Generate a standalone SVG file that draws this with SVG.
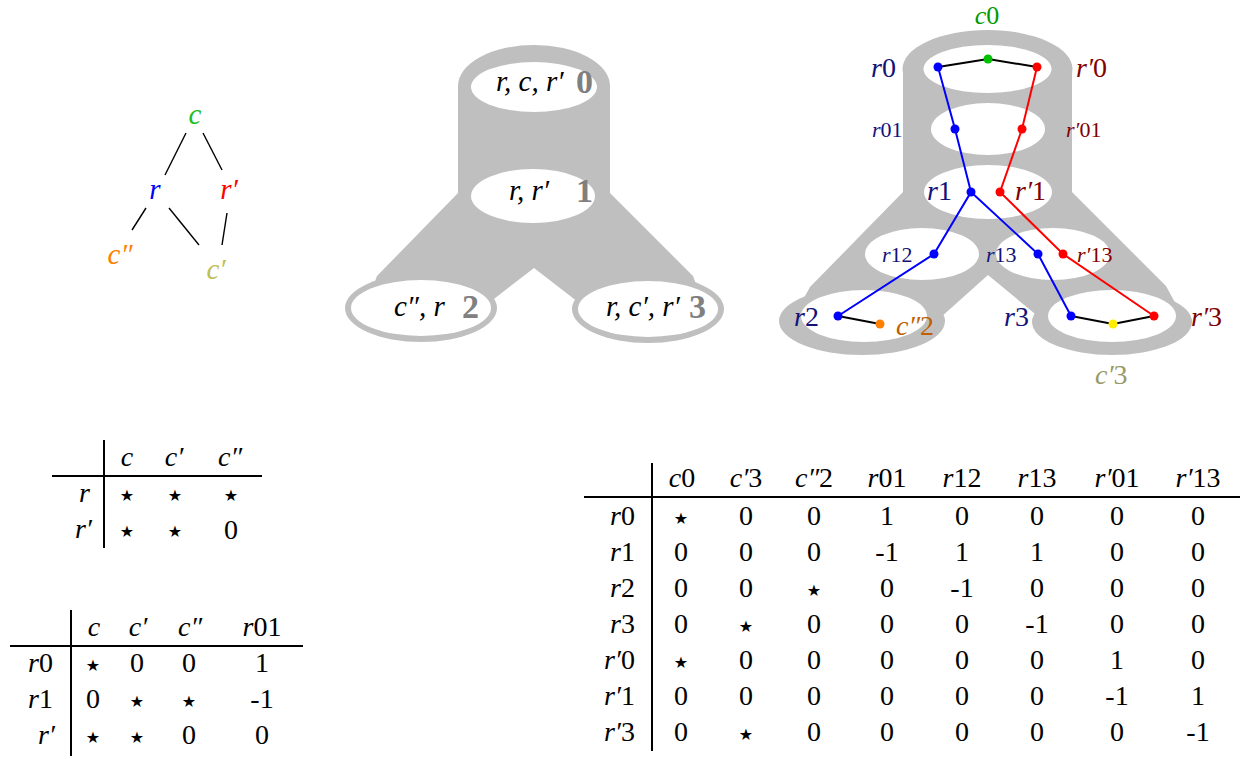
<svg xmlns="http://www.w3.org/2000/svg" width="1250" height="759" viewBox="0 0 1250 759">
<style>
text{font-family:"Liberation Serif","Times New Roman",serif;fill:#000}
.m{font-style:italic}
.lg{font-size:29px}
.t{font-size:28px;text-anchor:middle}
.rl{font-size:28px;text-anchor:end}
.st{font-family:"DejaVu Sans",sans-serif;font-size:16px;text-anchor:middle}
.bn{font-size:34px;font-weight:bold;fill:#808080}
.ml{font-size:29px}
.gr{fill:#bfbfbf}
.wh{fill:#fff}
.ln{stroke:#000;stroke-width:1.4;fill:none}
.tl{stroke:#000;stroke-width:2;fill:none}
.big{font-size:28px}
.sm{font-size:22px}
.nv{fill:#12127a}
.dr{fill:#800000}
.e{stroke-width:2;fill:none}
</style>

<!-- Left graph -->
<g id="connectors-left">
<line class="ln" x1="186" y1="133" x2="165" y2="175"/>
<line class="ln" x1="203" y1="133" x2="222" y2="170"/>
<line class="ln" x1="146" y1="208" x2="132" y2="230"/>
<line class="ln" x1="169" y1="208" x2="199" y2="245"/>
<line class="ln" x1="227" y1="213" x2="222" y2="245"/>
</g>
<g id="node-c"><text class="m lg" x="195" y="124" text-anchor="middle" style="fill:#1fbf1f">c</text></g>
<g id="node-r"><text class="m lg" x="155" y="199" text-anchor="middle" style="fill:#0000ff">r</text></g>
<g id="node-rp"><text class="m lg" x="229" y="199" text-anchor="middle" style="fill:#ff0000">r′</text></g>
<g id="node-cpp"><text class="m lg" x="120" y="264" text-anchor="middle" style="fill:#ff8000">c″</text></g>
<g id="node-cp"><text class="m lg" x="216" y="279" text-anchor="middle" style="fill:#bfbf5a">c′</text></g>

<!-- Middle shape -->
<g id="middle-shape">
<ellipse class="gr" cx="534" cy="86" rx="76" ry="41"/>
<rect class="gr" x="458" y="86" width="152" height="110"/>
<polygon class="gr" points="458,193 610,193 693,276 699,292 578,302 534,268 490,302 371,292 377,276"/>
<ellipse class="gr" cx="421" cy="308" rx="76" ry="34"/>
<ellipse class="gr" cx="648" cy="309" rx="76" ry="34"/>
</g>
<g id="mid-0">
<ellipse class="wh" cx="534" cy="87" rx="63" ry="25"/>
<text class="m ml" x="496" y="91">r, c, r′</text><text class="bn" x="576" y="93">0</text>
</g>
<g id="mid-1">
<ellipse class="wh" cx="533" cy="196" rx="62" ry="27"/>
<text class="m ml" x="509" y="200">r, r′</text><text class="bn" x="576" y="202">1</text>
</g>
<g id="mid-2">
<ellipse class="wh" cx="421" cy="308" rx="70" ry="28"/>
<text class="m ml" x="394" y="316">c″, r</text><text class="bn" x="462" y="318">2</text>
</g>
<g id="mid-3">
<ellipse class="wh" cx="648" cy="309" rx="70" ry="28"/>
<text class="m ml" x="606" y="316">r, c′, r′</text><text class="bn" x="689" y="318">3</text>
</g>

<!-- Right shape -->
<g id="right-shape">
<ellipse class="gr" cx="987.5" cy="69" rx="85" ry="39"/>
<rect class="gr" x="903" y="69" width="169" height="126"/>
<polygon class="gr" points="903,192 1072,192 1166,286 1178,308 1040,318 988,275 940,318 800,305 810,287"/>
<ellipse class="gr" cx="862" cy="321" rx="83" ry="34"/>
<ellipse class="gr" cx="1112" cy="322" rx="80" ry="33"/>
<ellipse class="wh" cx="987.5" cy="69" rx="64" ry="24"/>
<ellipse class="wh" cx="988" cy="129" rx="57" ry="26"/>
<ellipse class="wh" cx="988" cy="192" rx="64" ry="27"/>
<ellipse class="wh" cx="922" cy="254" rx="57" ry="26"/>
<ellipse class="wh" cx="1053" cy="254" rx="57" ry="26"/>
<ellipse class="wh" cx="864" cy="316" rx="63" ry="26"/>
<ellipse class="wh" cx="1112" cy="316" rx="64" ry="26"/>
</g>
<g id="connectors-right">
<polyline class="e" stroke="#000" points="938,67 988,59 1037,67"/>
<polyline class="e" stroke="#0000ff" points="938,67 955,129 971,192 934,254 838,316"/>
<polyline class="e" stroke="#0000ff" points="971,192 1038,254 1071,316"/>
<polyline class="e" stroke="#ff0000" points="1037,67 1022,129 1000,192 1063,254 1154,316"/>
<line class="e" stroke="#000" x1="838" y1="316" x2="880" y2="324"/>
<polyline class="e" stroke="#000" points="1071,316 1113,324 1154,316"/>
</g>
<g id="n-c0"><circle cx="988" cy="59" r="4.5" fill="#00c000"/><text class="m" x="987" y="24" text-anchor="middle" style="fill:#009a00;font-size:26px">c<tspan font-style="normal">0</tspan></text></g>
<g id="n-r0"><circle cx="938" cy="67" r="4.5" fill="#0000ff"/><text class="m big nv" x="871" y="77">r<tspan font-style="normal">0</tspan></text></g>
<g id="n-rp0"><circle cx="1037" cy="67" r="4.5" fill="#ff0000"/><text class="m big dr" x="1076" y="77">r′<tspan font-style="normal">0</tspan></text></g>
<g id="n-r01"><circle cx="955" cy="129" r="4.5" fill="#0000ff"/><text class="m sm nv" x="872" y="137">r<tspan font-style="normal">01</tspan></text></g>
<g id="n-rp01"><circle cx="1022" cy="129" r="4.5" fill="#ff0000"/><text class="m sm dr" x="1066" y="137">r′<tspan font-style="normal">01</tspan></text></g>
<g id="n-r1"><circle cx="971" cy="192" r="4.5" fill="#0000ff"/><text class="m big nv" x="927" y="200">r<tspan font-style="normal">1</tspan></text></g>
<g id="n-rp1"><circle cx="1000" cy="192" r="4.5" fill="#ff0000"/><text class="m big dr" x="1015" y="200">r′<tspan font-style="normal">1</tspan></text></g>
<g id="n-r12"><circle cx="934" cy="254" r="4.5" fill="#0000ff"/><text class="m sm nv" x="882" y="262">r<tspan font-style="normal">12</tspan></text></g>
<g id="n-r13"><circle cx="1038" cy="254" r="4.5" fill="#0000ff"/><text class="m sm nv" x="986" y="262">r<tspan font-style="normal">13</tspan></text></g>
<g id="n-rp13"><circle cx="1063" cy="254" r="4.5" fill="#ff0000"/><text class="m sm dr" x="1077" y="262">r′<tspan font-style="normal">13</tspan></text></g>
<g id="n-r2"><circle cx="838" cy="316" r="4.5" fill="#0000ff"/><text class="m big nv" x="794" y="326">r<tspan font-style="normal">2</tspan></text></g>
<g id="n-cpp2"><circle cx="880" cy="324" r="4.5" fill="#ff8000"/><text class="m big" x="896" y="335" style="fill:#c06000">c″<tspan font-style="normal">2</tspan></text></g>
<g id="n-r3"><circle cx="1071" cy="316" r="4.5" fill="#0000ff"/><text class="m big nv" x="1004" y="326">r<tspan font-style="normal">3</tspan></text></g>
<g id="n-cp3"><circle cx="1113" cy="324" r="4.5" fill="#ffee00"/><text class="m big" x="1095" y="384" style="fill:#999966">c′<tspan font-style="normal">3</tspan></text></g>
<g id="n-rp3"><circle cx="1154" cy="316" r="4.5" fill="#ff0000"/><text class="m big dr" x="1191" y="326">r′<tspan font-style="normal">3</tspan></text></g>

<!-- Table 1 -->
<g id="table1">
<line class="tl" x1="104" y1="440" x2="104" y2="548"/>
<line class="tl" x1="52" y1="476" x2="262" y2="476"/>
<text class="t m" x="127" y="466">c</text><text class="t m" x="174" y="466">c′</text><text class="t m" x="230" y="466">c″</text>
<text class="rl m" x="90" y="502">r</text><text class="rl m" x="92" y="538">r′</text>
<text class="st" x="127" y="501">★</text><text class="st" x="175" y="501">★</text><text class="st" x="231" y="501">★</text>
<text class="st" x="127" y="537">★</text><text class="st" x="175" y="537">★</text><text class="t" x="231" y="539">0</text>
</g>

<!-- Table 2 -->
<g id="table2">
<line class="tl" x1="71" y1="610" x2="71" y2="756"/>
<line class="tl" x1="10" y1="646" x2="303" y2="646"/>
<text class="t m" x="94" y="636">c</text><text class="t m" x="138" y="636">c′</text><text class="t m" x="190" y="636">c″</text><text class="t m" x="262" y="636">r<tspan font-style="normal">01</tspan></text>
<text class="rl m" x="53" y="672">r<tspan font-style="normal">0</tspan></text>
<text class="rl m" x="53" y="708">r<tspan font-style="normal">1</tspan></text>
<text class="rl m" x="55" y="744">r′</text>
<text class="st" x="93" y="671">★</text><text class="t" x="137" y="672">0</text><text class="t" x="189" y="672">0</text><text class="t" x="262" y="672">1</text>
<text class="t" x="93" y="708">0</text><text class="st" x="137" y="707">★</text><text class="st" x="189" y="707">★</text><text class="t" x="262" y="708">-1</text>
<text class="st" x="93" y="743">★</text><text class="st" x="137" y="743">★</text><text class="t" x="189" y="744">0</text><text class="t" x="262" y="744">0</text>
</g>

<!-- Table 3 -->
<g id="table3">
<line class="tl" x1="652" y1="463" x2="652" y2="751"/>
<line class="tl" x1="584" y1="497" x2="1240" y2="497"/>
<text class="t m" x="682" y="487">c<tspan font-style="normal">0</tspan></text>
<text class="t m" x="746" y="487">c′<tspan font-style="normal">3</tspan></text>
<text class="t m" x="814" y="487">c″<tspan font-style="normal">2</tspan></text>
<text class="t m" x="887" y="487">r<tspan font-style="normal">01</tspan></text>
<text class="t m" x="962" y="487">r<tspan font-style="normal">12</tspan></text>
<text class="t m" x="1037" y="487">r<tspan font-style="normal">13</tspan></text>
<text class="t m" x="1117" y="487">r′<tspan font-style="normal">01</tspan></text>
<text class="t m" x="1198" y="487">r′<tspan font-style="normal">13</tspan></text>
<text class="rl m" x="635" y="525">r<tspan font-style="normal">0</tspan></text>
<text class="rl m" x="635" y="561">r<tspan font-style="normal">1</tspan></text>
<text class="rl m" x="635" y="597">r<tspan font-style="normal">2</tspan></text>
<text class="rl m" x="635" y="633">r<tspan font-style="normal">3</tspan></text>
<text class="rl m" x="635" y="669">r′<tspan font-style="normal">0</tspan></text>
<text class="rl m" x="635" y="705">r′<tspan font-style="normal">1</tspan></text>
<text class="rl m" x="635" y="741">r′<tspan font-style="normal">3</tspan></text>
<!-- row r0 -->
<text class="st" x="681" y="524">★</text><text class="t" x="746" y="525">0</text><text class="t" x="814" y="525">0</text><text class="t" x="887" y="525">1</text><text class="t" x="962" y="525">0</text><text class="t" x="1037" y="525">0</text><text class="t" x="1117" y="525">0</text><text class="t" x="1198" y="525">0</text>
<!-- row r1 -->
<text class="t" x="681" y="561">0</text><text class="t" x="746" y="561">0</text><text class="t" x="814" y="561">0</text><text class="t" x="887" y="561">-1</text><text class="t" x="962" y="561">1</text><text class="t" x="1037" y="561">1</text><text class="t" x="1117" y="561">0</text><text class="t" x="1198" y="561">0</text>
<!-- row r2 -->
<text class="t" x="681" y="597">0</text><text class="t" x="746" y="597">0</text><text class="st" x="814" y="596">★</text><text class="t" x="887" y="597">0</text><text class="t" x="962" y="597">-1</text><text class="t" x="1037" y="597">0</text><text class="t" x="1117" y="597">0</text><text class="t" x="1198" y="597">0</text>
<!-- row r3 -->
<text class="t" x="681" y="633">0</text><text class="st" x="746" y="632">★</text><text class="t" x="814" y="633">0</text><text class="t" x="887" y="633">0</text><text class="t" x="962" y="633">0</text><text class="t" x="1037" y="633">-1</text><text class="t" x="1117" y="633">0</text><text class="t" x="1198" y="633">0</text>
<!-- row r'0 -->
<text class="st" x="681" y="668">★</text><text class="t" x="746" y="669">0</text><text class="t" x="814" y="669">0</text><text class="t" x="887" y="669">0</text><text class="t" x="962" y="669">0</text><text class="t" x="1037" y="669">0</text><text class="t" x="1117" y="669">1</text><text class="t" x="1198" y="669">0</text>
<!-- row r'1 -->
<text class="t" x="681" y="705">0</text><text class="t" x="746" y="705">0</text><text class="t" x="814" y="705">0</text><text class="t" x="887" y="705">0</text><text class="t" x="962" y="705">0</text><text class="t" x="1037" y="705">0</text><text class="t" x="1117" y="705">-1</text><text class="t" x="1198" y="705">1</text>
<!-- row r'3 -->
<text class="t" x="681" y="741">0</text><text class="st" x="746" y="740">★</text><text class="t" x="814" y="741">0</text><text class="t" x="887" y="741">0</text><text class="t" x="962" y="741">0</text><text class="t" x="1037" y="741">0</text><text class="t" x="1117" y="741">0</text><text class="t" x="1198" y="741">-1</text>
</g>
</svg>
